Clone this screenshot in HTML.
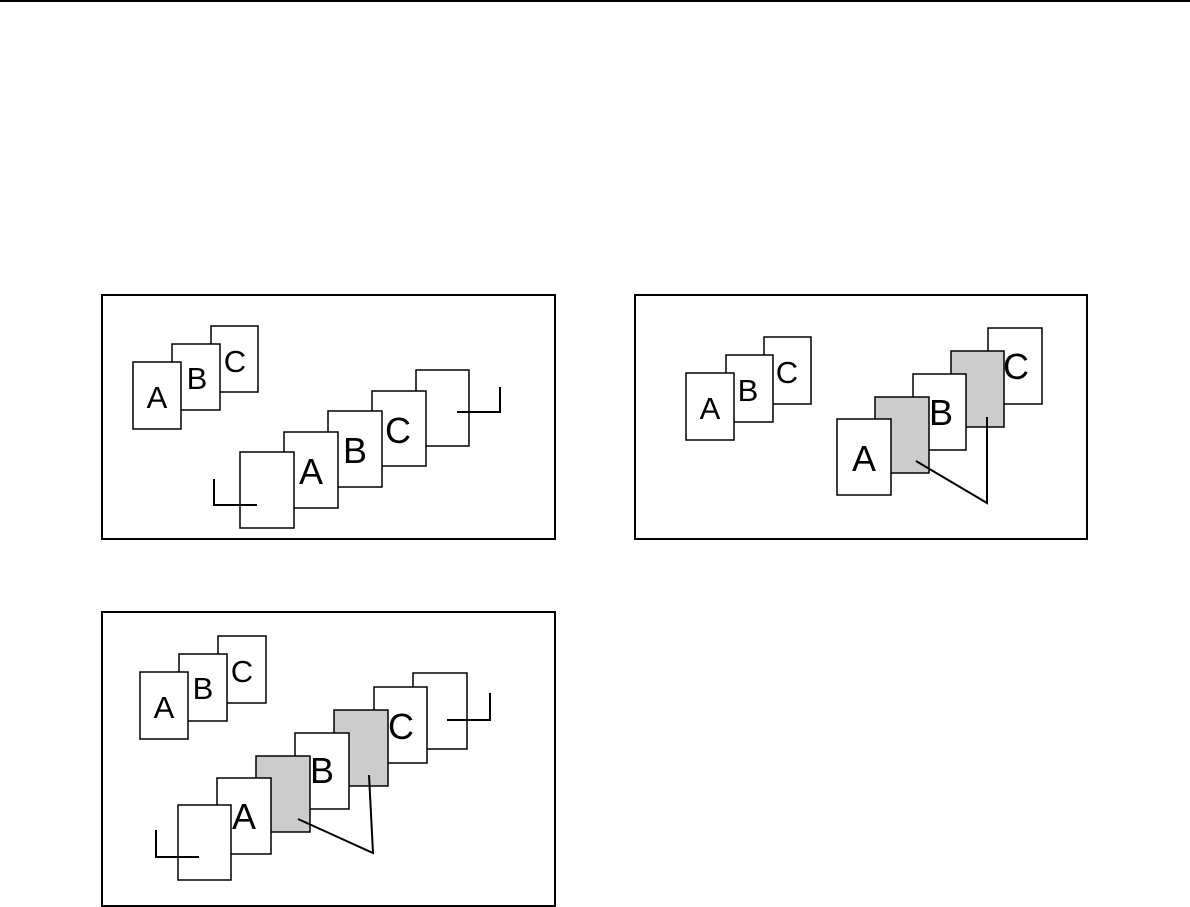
<!DOCTYPE html>
<html><head><meta charset="utf-8"><style>html,body{margin:0;padding:0;background:#fff}svg{display:block}</style></head>
<body>
<svg width="1190" height="907" viewBox="0 0 1190 907" xmlns="http://www.w3.org/2000/svg" font-family="Liberation Sans, Arial, sans-serif">
<rect x="0" y="0" width="1190" height="2" fill="#000"/>
<g fill="#fff" stroke="#000" stroke-width="1.5">
<rect x="102" y="295" width="453" height="244" stroke-width="2"/>
<rect x="635" y="295" width="452" height="244" stroke-width="2"/>
<rect x="102" y="612" width="453" height="294" stroke-width="2"/>
<rect x="211" y="326" width="47" height="66"/>
<rect x="172" y="344" width="48" height="66"/>
<rect x="133" y="362" width="48" height="67"/>
<rect x="416" y="370" width="53" height="76"/>
<rect x="372" y="391" width="54" height="75"/>
<rect x="328" y="411" width="54" height="76"/>
<rect x="284" y="432" width="54" height="76"/>
<rect x="240" y="452" width="54" height="76"/>
<rect x="764" y="337" width="47" height="67"/>
<rect x="726" y="355" width="47" height="67"/>
<rect x="686" y="373" width="48" height="67"/>
<rect x="988" y="328" width="54" height="76"/>
<rect x="951" y="351" width="53" height="76" fill="#cccccc"/>
<rect x="913" y="374" width="53" height="76"/>
<rect x="875" y="397" width="54" height="76" fill="#cccccc"/>
<rect x="837" y="419" width="54" height="76"/>
<rect x="218" y="636" width="48" height="67"/>
<rect x="179" y="654" width="48" height="67"/>
<rect x="140" y="672" width="48" height="67"/>
<rect x="413" y="673" width="54" height="76"/>
<rect x="374" y="687" width="53" height="76"/>
<rect x="334" y="710" width="54" height="76" fill="#cccccc"/>
<rect x="295" y="733" width="54" height="76"/>
<rect x="256" y="756" width="54" height="76" fill="#cccccc"/>
<rect x="217" y="778" width="54" height="76"/>
<rect x="178" y="805" width="53" height="75"/>
</g>
<g fill="none" stroke="#000" stroke-width="2">
<polyline points="214,479 214,505 257,505"/>
<polyline points="457,412 500,412 500,387"/>
<polyline points="916,461 987,503 987,417"/>
<polyline points="298,819 373,853 369,775"/>
<polyline points="156,830 156,857 199,857"/>
<polyline points="447,720 490,720 490,693"/>
</g>
<g font-size="31" text-anchor="middle" fill="#000">
<text x="157" y="408">A</text><text x="197" y="389">B</text><text x="235" y="372">C</text>
<text x="710" y="419">A</text><text x="748" y="401">B</text><text x="787" y="383">C</text>
<text x="164" y="718">A</text><text x="203" y="699">B</text><text x="242" y="682">C</text>
</g>
<g font-size="36" text-anchor="middle" fill="#000">
<text x="311" y="484">A</text><text x="355" y="463">B</text><text x="398" y="443">C</text>
<text x="864" y="471">A</text><text x="941" y="425">B</text><text x="1016" y="379">C</text>
<text x="244" y="829">A</text><text x="322" y="783">B</text><text x="401" y="739">C</text>
</g>
</svg>
</body></html>
